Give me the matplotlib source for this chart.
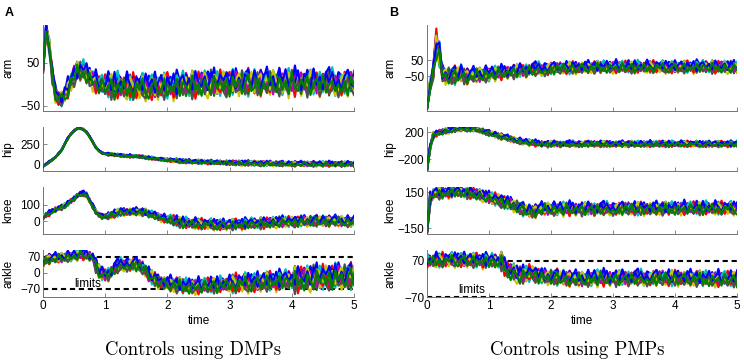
import numpy as np
import matplotlib.pyplot as plt

plt.rcParams['font.family'] = ['Liberation Sans', 'DejaVu Sans']

# sample times (s), every 0.05 s
time = np.arange(101) * 0.05

# hand-typed per-sample deviation pattern, reused (shifted) for every trial
jitter = [0.0, 0.6, -0.4, 0.9, -0.7, 0.2, -0.9, 0.5, 0.1, -0.6,
          0.8, -0.2, -0.8, 0.4, 0.7, -0.5, 0.3, -1.0, 0.6, -0.1,
          0.9, -0.6, 0.2, -0.3, 0.8, -0.9, 0.5, 0.0, -0.7, 1.0,
          -0.4, 0.3, -0.8, 0.6, -0.2, 0.7, -0.5, 0.1, -0.9, 0.4,
          0.9, -0.3, -0.6, 0.5, 0.2, -0.8, 0.7, -0.1, 0.3, -0.7,
          0.8, -0.4, 0.0, 0.6, -0.9, 0.4, -0.2, 0.9, -0.5, 0.1,
          0.7, -0.8, 0.3, -0.3, 0.5, -0.6, 1.0, -0.7, 0.2, -0.4,
          0.8, -0.1, -0.9, 0.6, 0.3, -0.5, 0.9, -0.2, 0.4, -0.8,
          0.1, 0.7, -0.6, 0.5, -0.3, 0.8, -1.0, 0.2, 0.6, -0.4,
          0.3, -0.7, 0.9, -0.1, -0.5, 0.4, -0.8, 0.7, 0.0, -0.3,
          0.5]
trial_shift = [0, 37, 71, 13, 89, 52, 26, 64, 7, 45, 83, 19, 58, 95]
trial_sign = [1, -1, 1, -1, 1, 1, -1, 1, -1, -1, 1, -1, 1, -1]
trial_offset = [0.5, -0.4, 0.1, -0.7, 0.3, 0.8, -0.2, -0.5, 0.6, -0.1, 0.2, -0.6, 0.4, -0.3]
trial_colors = ['#ff0000', '#00bfbf', '#bf00bf', '#c8c800', '#505050', '#0000ff', '#008000']

# ---- Controls using DMPs (left column) ----
dmp_arm = ([30, 130, 90, 20, -20, -32, -33, -25, -10, 8, 20, 28, 32, 32, 25, 18, 10, 4, 0, -2, -2]
           + [-3, -3, -4, -4, -5, -5, -6, -6, -6, -6, -6, -6, -5, -5, -5, -4, -4, -4, -3, -3]
           + [-3, -2, -2, -1, -1, 0, 0, 1, 1, 1, 2, 2, 2, 3, 3, 3, 3, 3, 3, 3]
           + [3, 4, 4, 4, 4, 4, 5, 5, 5, 5, 5, 5, 5, 5, 5, 5, 5, 5, 5, 5]
           + [5, 5, 5, 5, 5, 4, 4, 4, 4, 4, 4, 4, 4, 3, 3, 3, 3, 3, 3, 3])
dmp_arm_spread = [8, 12, 18] + [20] * 5 + [24] * 13 + [30] * 80

dmp_hip = ([-25, 0, 30, 55, 90, 130, 180, 250, 320, 375, 415, 440, 445, 430, 395, 340, 275, 210, 165, 140, 130]
           + [126, 122, 118, 114, 110, 107, 104, 102, 100, 98, 95, 90, 85, 80, 75, 70, 65, 60, 57, 54]
           + [51, 48, 45, 42, 40, 38, 36, 34, 33, 32, 30, 28, 27, 26, 25, 24, 23, 22, 21, 20]
           + [19, 18, 17, 16, 15, 14, 13, 12, 12, 11, 11, 10, 10, 9, 9, 8, 8, 8, 7, 7]
           + [7, 7, 6, 6, 6, 6, 5, 5, 5, 5, 5, 5, 5, 5, 5, 5, 5, 5, 5, 5])
dmp_hip_spread = [10] * 21 + [18] * 20 + [26] * 20 + [32] * 40

dmp_knee = ([25, 35, 48, 60, 72, 80, 86, 95, 108, 125, 142, 158, 168, 170, 160, 130, 94, 60, 38, 28, 28]
            + [33, 38, 45, 52, 56, 58, 58, 58, 58, 58, 58, 56, 52, 45, 40, 35, 28, 20, 15, 10]
            + [6, 2, -2, -6, -9, -12, -14, -16, -17, -18, -19, -20, -20, -21, -21, -22, -22, -22, -22, -22]
            + [-21, -20, -19, -18, -17, -16, -15, -14, -13, -12, -11, -10, -9, -8, -7, -6, -5, -5, -4, -4]
            + [-3, -2, -2, -1, -1, 0, 0, 0, 1, 1, 1, 1, 0, 0, -1, -1, -2, -2, -3, -3])
dmp_knee_spread = [16] * 21 + [24] * 20 + [34] * 60

dmp_ankle = ([35, 60, 62, 63, 65, 65, 67, 70, 72, 72, 75, 78, 80, 80, 77, 75, 70, 35, 8, -5, -8]
             + [-3, 5, 18, 28, 33, 37, 38, 38, 38, 37, 30, 22, 10, -5, -18, -28, -35, -40, -43, -46]
             + [-48, -50, -52, -54, -56, -57, -58, -58, -58, -58, -57, -56, -55, -54, -53, -52, -51, -50, -49, -48]
             + [-47, -46, -45, -44, -43, -42, -41, -40, -39, -38, -37, -36, -35, -34, -33, -32, -31, -30, -29, -28]
             + [-27, -26, -25, -24, -23, -22, -21, -20, -19, -18, -17, -16, -16, -15, -15, -15, -15, -15, -15, -15])
dmp_ankle_spread = [12, 18] + [22] * 15 + [30] * 24 + [34] * 20 + [42] * 20 + [55] * 20

# ---- Controls using PMPs (right column) ----
pmp_arm = ([-255, -110, -20, 160, 80, -40, -45, -48, -48, -45, -40, -30, -45, -48, -45, -43, -42, -40, -38, -36, -34]
           + [-32, -30, -29, -27, -25, -23, -21, -19, -17, -15, -13, -11, -10, -8, -7, -6, -5, -4, -3, -2]
           + [-1, 0, 1, 2, 3, 3, 4, 4, 5, 5, 6, 6, 6, 7, 7, 7, 8, 8, 8, 8]
           + [8] * 20
           + [9, 9, 9, 9, 9, 10, 10, 10, 10, 10, 10, 10, 10, 9, 9, 9, 8, 7, 6, 5])
pmp_arm_spread = [5, 45, 45, 100, 80] + [55] * 8 + [48] * 8 + [42] * 20 + [38] * 60

pmp_hip = ([-365, -20, 150, 180, 195, 205, 215, 225, 235, 242, 248, 252, 255, 255, 253, 248, 240, 228, 215, 200, 186]
           + [175, 162, 150, 137, 125, 113, 100, 89, 78, 70, 62, 55, 48, 42, 37, 33, 30, 28, 27, 27]
           + [27] * 20 + [26] * 20 + [26] * 20)
pmp_hip_spread = [5, 60, 45] + [42] * 18 + [45] * 80

pmp_knee = ([-190, 90, 145, 145, 142, 143, 148, 152, 155, 156, 156, 155, 153, 150, 148, 143, 136, 130, 122, 115, 107]
            + [100, 93, 86, 79, 70, 60, 50, 41, 30, 18, 8, 0, -5, -7, -3, 5, 10, 13, 13, 13]
            + [13] * 20 + [15] * 20 + [18] * 20)
pmp_knee_spread = [5, 60, 50] + [48] * 18 + [55] * 80

pmp_ankle = ([68, 70, 71, 72, 72, 73, 73, 74, 74, 75, 75, 75, 74, 74, 73, 73, 72, 72, 71, 71, 70]
             + [70, 70, 70, 70, 50, 33, 28, 26, 20, 13, 15, 20, 22, 22, 18, 13, 10, 8, 7, 7]
             + [6, 6, 5, 5, 4, 3, 2, 1, 0, 0, 1, 2, 3, 4, 4, 4, 4, 4, 4, 4]
             + [4] * 20
             + [4, 4, 4, 3, 3, 3, 2, 2, 2, 1, 1, 1, 1, 0, 0, 0, 0, 0, 0, 0])
pmp_ankle_spread = [28] * 24 + [34] * 10 + [30] * 67

joint_names = ['arm', 'hip', 'knee', 'ankle']
dmp_yticks = [[-50, 50], [0, 250], [0, 100], [-70, 0, 70]]
pmp_yticks = [[-50, 50], [-200, 200], [-150, 150], [-70, 70]]
ankle_limit = 70

columns = [
    dict(means=[dmp_arm, dmp_hip, dmp_knee, dmp_ankle],
         spreads=[dmp_arm_spread, dmp_hip_spread, dmp_knee_spread, dmp_ankle_spread],
         yticks=dmp_yticks,
         ylims=[(-62, 138), (-82, 460), (-81, 212), (-105, 100)],
         x0=43, width=311, label_x=-0.093, limits_y=-60,
         letter='A', caption='Controls using DMPs'),
    dict(means=[pmp_arm, pmp_hip, pmp_knee, pmp_ankle],
         spreads=[pmp_arm_spread, pmp_hip_spread, pmp_knee_spread, pmp_ankle_spread],
         yticks=pmp_yticks,
         ylims=[(-267, 270), (-372, 276), (-199, 195), (-70, 112)],
         x0=427, width=310, label_x=-0.100, limits_y=-56,
         letter='B', caption='Controls using PMPs'),
]

W, H = 744, 362
rows_px = [(25, 111), (127, 171), (187, 234), (250, 297)]

fig = plt.figure(figsize=(W / 100, H / 100), dpi=100)
jit = np.array(jitter)

for ci, col in enumerate(columns):
    for ri, (top, bot) in enumerate(rows_px):
        ax = fig.add_axes([col['x0'] / W, 1 - bot / H, col['width'] / W, (bot - top) / H])
        mean = np.array(col['means'][ri], dtype=float)
        spread = np.array(col['spreads'][ri], dtype=float)
        base = 11 * (ri + 4 * ci)
        for k in range(len(trial_shift)):
            dev = 0.9 * trial_sign[k] * np.roll(jit, trial_shift[k] + base) + 0.5 * trial_offset[k]
            ax.plot(time, mean + spread * dev, color=trial_colors[k % len(trial_colors)],
                    lw=1.5, zorder=3)
        if joint_names[ri] == 'ankle':
            for lim in (ankle_limit, -ankle_limit):
                ax.axhline(lim, color='black', lw=1.5, dashes=(2.5, 1.8), zorder=2, clip_on=False)
            ax.text(0.5, col['limits_y'], 'limits', fontsize=8.5, zorder=4)
            ax.set_xticks([0, 1, 2, 3, 4, 5])
            ax.set_xlabel('time', fontsize=8.5, labelpad=2)
        else:
            ax.set_xticks([0, 1, 2, 3, 4, 5])
            ax.set_xticklabels([])
        ax.set_xlim(0, 5)
        ax.set_ylim(*col['ylims'][ri])
        ax.set_yticks(col['yticks'][ri])
        ax.set_ylabel(joint_names[ri], fontsize=8.5)
        ax.yaxis.set_label_coords(col['label_x'], 0.5)
        for side in ('top', 'right'):
            ax.spines[side].set_visible(False)
        for side in ('left', 'bottom'):
            ax.spines[side].set_color('0.45')
            ax.spines[side].set_linewidth(0.7)
        ax.tick_params(direction='in', length=3, width=0.6, color='0.45',
                       labelsize=8.5, pad=2)
    fig.text((col['x0'] - 38) / W, 1 - 16 / H, col['letter'], fontsize=9, fontweight='bold')
    fig.text((col['x0'] + col['width'] / 2 - 5) / W, 1 - 355 / H, col['caption'],
             family='cmr10', fontsize=13.5, ha='center', va='baseline')

fig.savefig('out.png', dpi=100)
